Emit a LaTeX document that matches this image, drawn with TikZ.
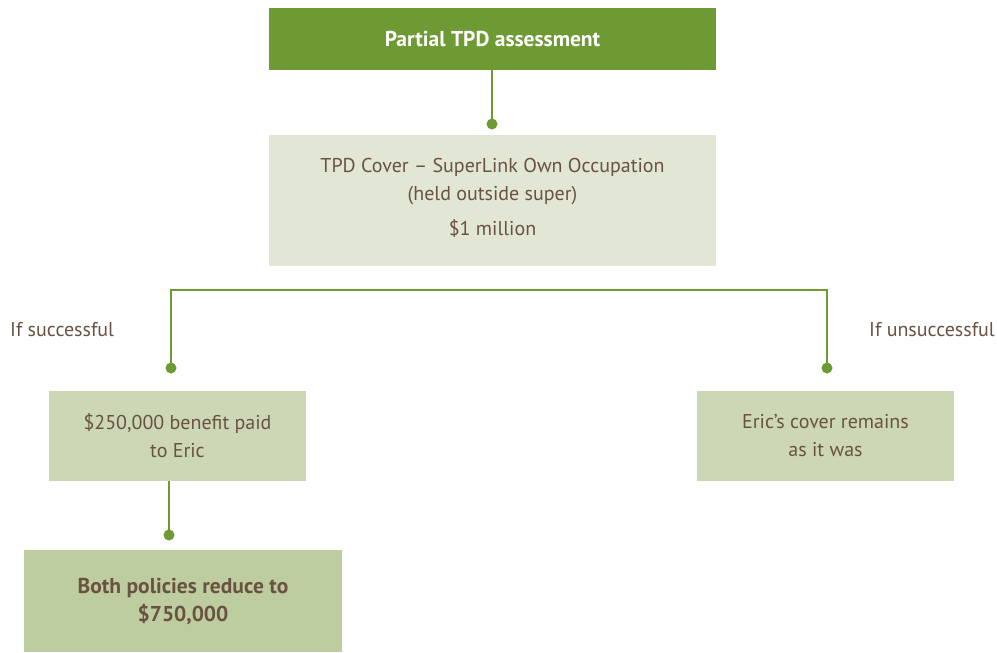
\documentclass[tikz,border=0pt]{standalone}
\usepackage{fontspec}
\setmainfont{PT Sans}
\definecolor{dgreen}{HTML}{6E9A34}
\definecolor{pale}{HTML}{E1E6D5}
\definecolor{mid}{HTML}{CBD7B5}
\definecolor{deep}{HTML}{BECD9F}
\definecolor{brown}{HTML}{6A5242}
\begin{document}
\begin{tikzpicture}[x=1pt,y=-1pt,
  box/.style={rectangle,inner sep=0pt,align=center,text=brown,font=\fontsize{20}{28}\selectfont},
  conn/.style={draw=dgreen,line width=2.8pt},
  dot/.style={circle,fill=dgreen,inner sep=0pt,minimum size=11pt},
  lbl/.style={text=brown,font=\fontsize{20}{24}\selectfont,inner sep=0pt}]
\useasboundingbox (0,0) rectangle (997,653);
\node[box,fill=dgreen,text=white,minimum width=447pt,minimum height=62pt,font=\bfseries\fontsize{21.5}{24}\selectfont] (top) at (492.5,39) {Partial TPD assessment};
\node[box,fill=pale,minimum width=447pt,minimum height=131pt] (tpd) at (492.5,200.5) {};
\node[box] (tpdtext) at (492.5,198) {TPD Cover -- SuperLink Own Occupation\\(held outside super)\\[7pt]\$1 million};
\node[box,fill=mid,minimum width=257pt,minimum height=90pt] (left) at (177.5,436) {\$250,000 benefit paid\\to Eric};
\node[box,fill=mid,minimum width=257pt,minimum height=90pt] (right) at (825.5,436) {Eric’s cover remains\\as it was};
\node[box,fill=deep,minimum width=318pt,minimum height=102pt,font=\bfseries\fontsize{21.5}{28}\selectfont] (bot) at (183,601) {Both policies reduce to\\\$750,000};
\node[dot] (d1) at (492,124) {};
\node[dot] (d2) at (171,368) {};
\node[dot] (d3) at (827,368) {};
\node[dot] (d4) at (169,535) {};
\coordinate (hl) at (171,290);
\coordinate (hr) at (827,290);
\draw[conn] (top.south -| d1) -- (d1.center);
\draw[conn] (d2.center) -- (hl) -- (hr) -- (d3.center);
\draw[conn] (left.south -| d4) -- (d4.center);
\node[lbl,anchor=west] (ls) at (10,330) {If successful};
\node[lbl,anchor=east] (lu) at (995,330) {If unsuccessful};
\end{tikzpicture}
\end{document}
